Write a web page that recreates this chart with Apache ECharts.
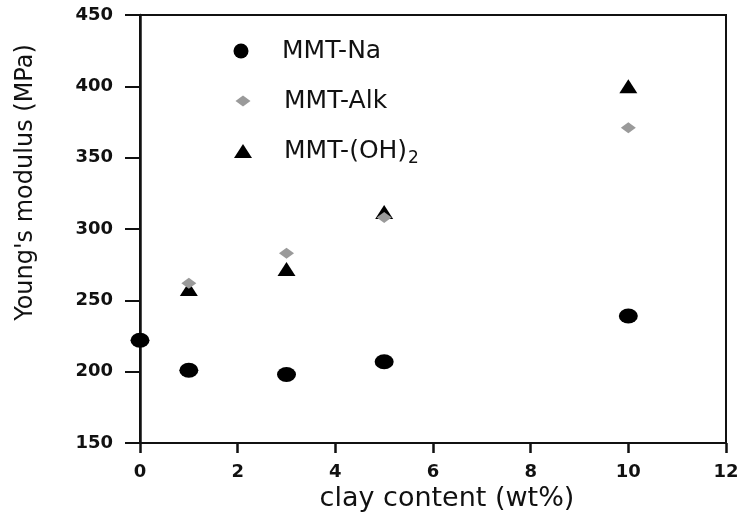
<!DOCTYPE html>
<html>
<head>
<meta charset="utf-8">
<script src="https://cdn.jsdelivr.net/npm/echarts@6/dist/echarts.min.js"></script>
<style>
  html, body { margin: 0; padding: 0; background: #fff; }
  #chart { width: 741px; height: 515px; }
</style>
</head>
<body>
<div id="chart"></div>
<script>
// Clay content (wt%) and Young's modulus (MPa) for each filler type
const naX = [0, 1, 3, 5, 10];
const naY = [222, 201, 198, 207, 239];
const alkX = [1, 3, 5, 10];
const alkY = [262, 283, 308, 371];
const ohX = [1, 3, 5, 10];
const ohY = [258, 272, 312, 400];

const seriesNames = ['MMT-Na', 'MMT-Alk', 'MMT-(OH)2'];

const pairs = (xs, ys) => xs.map((x, i) => [x, ys[i]]);

const ink = '#111';
const labelFont = 'DejaVu Sans';
const tickText = { color: ink, fontFamily: labelFont, fontWeight: 'bold', fontSize: 18 };

// one legend block per series so each key gets its own symbol size
function legendBlock(name, icon, w, h, centerY) {
  return {
    orient: 'vertical',
    left: 243 - w / 2,
    top: centerY - 15,
    padding: 0,
    itemWidth: w,
    itemHeight: h,
    symbolKeepAspect: false,
    data: [{ name: name, icon: icon }],
    selectedMode: false,
    formatter: n => n === 'MMT-(OH)2' ? '{t|MMT-(OH)}{s|2}' : '{t|' + n + '}',
    textStyle: {
      padding: [0, 0, 0, 284 - (243 + w / 2) - 5],
      rich: {
        t: { fontFamily: labelFont, fontSize: 25, color: ink, height: 30, lineHeight: 30 },
        s: { fontFamily: labelFont, fontSize: 17, color: ink, padding: [15, 0, 0, 1] }
      }
    }
  };
}

const chart = echarts.init(document.getElementById('chart'));

chart.setOption({
  animation: false,
  backgroundColor: '#fff',
  grid: {
    left: 140, top: 15, right: 15, bottom: 72,
    outerBoundsMode: 'none',
    show: true, borderColor: ink, borderWidth: 2, backgroundColor: 'transparent'
  },
  legend: [
    legendBlock(seriesNames[0], 'circle', 19, 15, 51),
    legendBlock(seriesNames[1], 'diamond', 15, 11, 101),
    legendBlock(seriesNames[2], 'triangle', 18, 14, 151)
  ],
  xAxis: {
    type: 'value', min: 0, max: 12, interval: 2,
    name: 'clay content (wt%)', nameLocation: 'middle', nameGap: 38,
    nameTextStyle: { fontFamily: labelFont, fontSize: 27, color: ink, padding: [0, 0, 0, 28] },
    axisLine: { show: true, lineStyle: { color: ink, width: 2 } },
    axisTick: { show: true, inside: false, length: 10, lineStyle: { color: ink, width: 2.5 } },
    axisLabel: Object.assign({ margin: 20 }, tickText),
    splitLine: { show: false }
  },
  yAxis: {
    type: 'value', min: 150, max: 450, interval: 50,
    name: "Young's modulus (MPa)", nameLocation: 'middle', nameGap: 102,
    nameTextStyle: { fontFamily: labelFont, fontSize: 24, color: ink, padding: [0, 0, 0, 93] },
    axisLine: { show: true, lineStyle: { color: ink, width: 2.5 } },
    axisTick: { show: true, inside: false, length: 15, lineStyle: { color: ink, width: 2 } },
    axisLabel: Object.assign({ margin: 27 }, tickText),
    splitLine: { show: false }
  },
  series: [
    {
      name: seriesNames[0], type: 'scatter', symbol: 'circle', symbolSize: [19, 15],
      itemStyle: { color: '#000', opacity: 1 }, data: pairs(naX, naY), z: 3
    },
    {
      name: seriesNames[1], type: 'scatter', symbol: 'diamond', symbolSize: [15, 11],
      itemStyle: { color: '#9a9a9a', opacity: 1 }, data: pairs(alkX, alkY), z: 2
    },
    {
      name: seriesNames[2], type: 'scatter', symbol: 'triangle', symbolSize: [18, 14],
      itemStyle: { color: '#000', opacity: 1 }, data: pairs(ohX, ohY), z: 1
    }
  ]
});
</script>
</body>
</html>
